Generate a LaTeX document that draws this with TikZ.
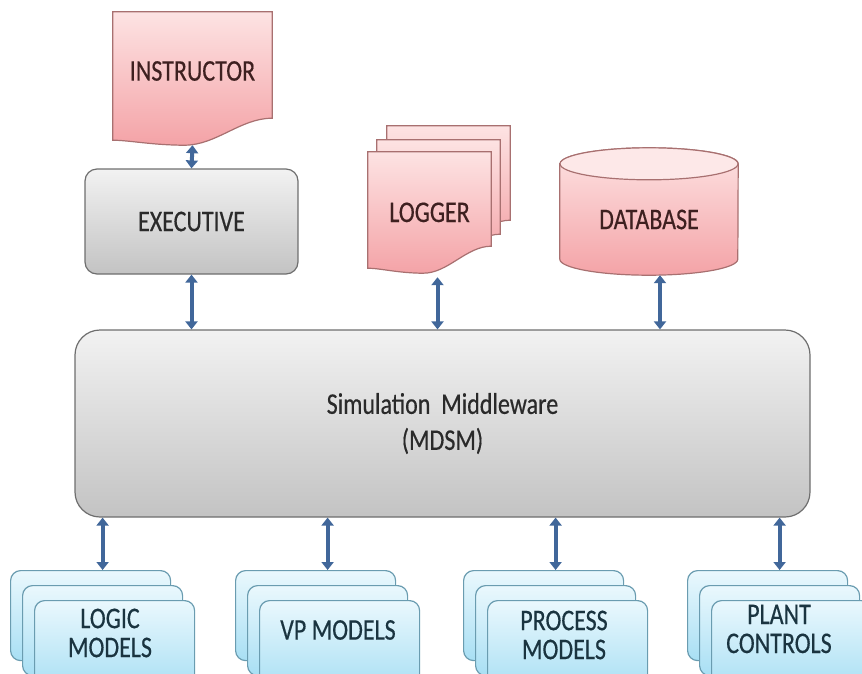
\documentclass[tikz,border=0pt]{standalone}
\usepackage{fontspec}
\setmainfont{Carlito}[FakeStretch=0.8, FakeBold=0.4]
\usetikzlibrary{calc, arrows.meta}

\definecolor{pinktop}{HTML}{FDE3E3}
\definecolor{pinkbot}{HTML}{F4A3A7}
\definecolor{pinklite}{HTML}{FDE8E8}
\definecolor{pinkline}{HTML}{A87070}
\definecolor{pinktext}{HTML}{3E2020}
\definecolor{graytop}{HTML}{F2F2F2}
\definecolor{graybot}{HTML}{C3C3C3}
\definecolor{grayline}{HTML}{6E6E6E}
\definecolor{graytext}{HTML}{2A2A2A}
\definecolor{bluetop}{HTML}{EAF8FD}
\definecolor{bluebot}{HTML}{A8DFF4}
\definecolor{blueline}{HTML}{6A9CB0}
\definecolor{bluetext}{HTML}{1A3440}
\definecolor{linkblue}{HTML}{41679A}

\pgfdeclarelayer{bg}
\pgfsetlayers{bg,main}

\tikzset{
  lbl/.style={font=\fontsize{30}{36}\selectfont},
  pinkshade/.style={top color=pinktop, bottom color=pinkbot, draw=pinkline, line width=1.2pt},
  doctext/.style={lbl, text=pinktext, inner sep=0pt},
  graybox/.style={lbl, text=graytext, rounded corners=12pt, top color=graytop,
    bottom color=graybot, draw=grayline, line width=1.2pt, inner sep=0pt},
  modbox/.style={rounded corners=10pt, top color=bluetop, bottom color=bluebot,
    draw=blueline, line width=1.2pt, minimum width=160pt, minimum height=90pt,
    anchor=north west, inner sep=0pt},
  modtext/.style={font=\fontsize{30}{29}\selectfont, text=bluetext, align=center},
  link/.style={linkblue, line width=4pt,
    {Triangle[width=12pt,length=8pt]}-{Triangle[width=12pt,length=8pt]}}
}

% document page with a wavy lower edge, drawn round a node
\newcommand\docpage[1]{%
  \draw[pinkshade] (#1.north west) -- (#1.north east) -- ($(#1.south east)+(0,-12)$)
    .. controls ($(#1.south west)!0.8!(#1.south east)+(0,-12)$) and ($(#1.south west)!0.65!(#1.south east)+(0,15)$)
    .. ($(#1.south west)!0.45!(#1.south east)+(0,15)$)
    .. controls ($(#1.south west)!0.25!(#1.south east)+(0,15)$) and ($(#1.south west)!0.1!(#1.south east)+(0,10)$)
    .. ($(#1.south west)+(0,10)$) -- cycle;}

\begin{document}
\begin{tikzpicture}[x=1pt, y=-1pt]
  \useasboundingbox (0,0) rectangle (862,673);
  \clip (0,0) rectangle (862,673);

  % Top row
  \node[doctext, minimum width=159pt, minimum height=118pt] (instr) at (192.5,71) {INSTRUCTOR};
  \node[graybox, minimum width=213pt, minimum height=105pt] (exec) at (191.5,221.5) {EXECUTIVE};

  \node[inner sep=0pt, minimum width=123pt, minimum height=106pt] (log3) at (448.5,179) {};
  \node[inner sep=0pt, minimum width=123pt, minimum height=106pt] (log2) at (438.5,193) {};
  \node[doctext, minimum width=123pt, minimum height=106pt, text height=34pt, text depth=0pt] (log) at (429.5,205) {LOGGER};

  \node[doctext, minimum width=178pt, minimum height=111pt] (db) at (649,219.5) {DATABASE};

  % Shapes behind the labels
  \begin{pgfonlayer}{bg}
    \docpage{instr}
    \docpage{log3}
    \docpage{log2}
    \docpage{log}
    \draw[pinkshade] (db.north west) -- ($(db.south west)+(0,-16)$)
      arc[start angle=180, end angle=360, x radius=89pt, y radius=16pt]
      -- (db.north east) arc[start angle=0, end angle=180, x radius=89pt, y radius=16pt] -- cycle;
    \draw[pinkline, line width=1.2pt, fill=pinklite] (db.north) ellipse[x radius=89pt, y radius=16pt];
  \end{pgfonlayer}

  % Middleware
  \node[graybox, rounded corners=25pt, minimum width=735pt, minimum height=187pt, align=center]
    (mw) at (442.5,423.5) {Simulation\ \ Middleware\\(MDSM)};

  % Model stacks
  \foreach \name/\x in {lg/10, vp/235, pr/463, pc/687} {
    \foreach \i/\dx/\dy in {3/0/0, 2/12/15, 1/24/30}
      \node[modbox] (\name\i) at (\x+\dx,570+\dy) {};
  }
  \node[modtext] (lgt) at (110,633) {LOGIC\\MODELS};
  \node[modtext] (vpt) at (338,630) {VP MODELS};
  \node[modtext] (prt) at (564,635) {PROCESS\\MODELS};
  \node[modtext] (pct) at (779,629) {PLANT\\CONTROLS};

  % Links
  \draw[link] ([yshift=-15pt]instr.south) -- (exec.north);
  \draw[link] (exec.south) -- (exec.south |- mw.north);
  \draw[link] ([xshift=8pt,yshift=-19pt]log.south) -- ([xshift=8pt]log.south |- mw.north);
  \draw[link] ([xshift=11pt]db.south) -- ([xshift=11pt]db.south |- mw.north);
  \foreach \name in {lg, vp, pr, pc}
    \draw[link] ([xshift=12pt]\name3.north |- mw.south) -- ([xshift=12pt]\name3.north);
\end{tikzpicture}
\end{document}
